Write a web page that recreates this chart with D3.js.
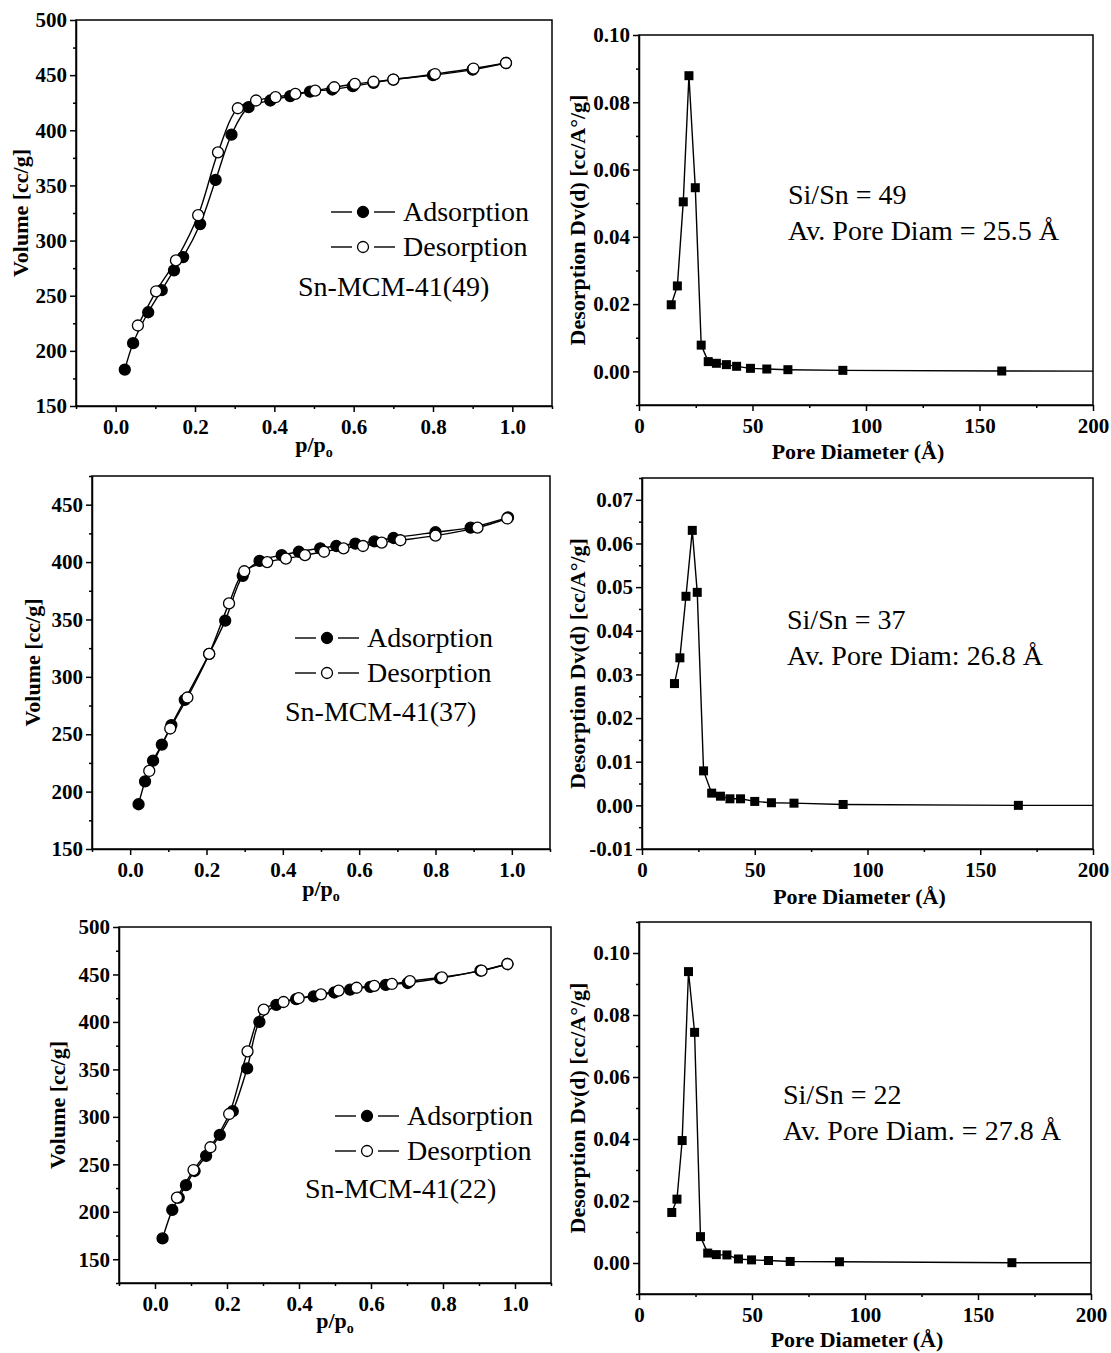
<!DOCTYPE html>
<html lang="en">
<head>
<meta charset="UTF-8">
<title>Sn-MCM-41 isotherms and pore size distributions</title>
<style>
  body { margin: 0; background: #fff; }
  svg { display: block; }
  text { font-family: "Liberation Serif", "Times New Roman", serif; fill: #000; }
  .axis text { font-size: 21px; font-weight: bold; }
  .axis line, .axis path { stroke: #000; stroke-width: 1.5; }
  .ttl { font-size: 22px; font-weight: bold; }
  .leg { font-size: 28px; }
</style>
</head>
<body>
<script src="https://d3js.org/d3.v7.min.js"></script>
<script>
// N2 isotherms, [p/po, volume cc/g]
const ads49 = [[0.023,183],[0.044,207],[0.082,235],[0.116,255],[0.147,273],[0.170,285],[0.213,315],[0.252,355],[0.292,396],[0.335,421],[0.390,427],[0.440,431],[0.490,435],[0.546,437],[0.598,440],[0.650,443],[0.700,446],[0.800,450],[0.900,455],[0.984,461]];
const des49 = [[0.984,461],[0.902,456],[0.805,451],[0.700,446],[0.650,444],[0.603,442],[0.551,439],[0.503,436],[0.453,433],[0.403,430],[0.354,427],[0.308,420],[0.258,380],[0.208,323],[0.152,282],[0.102,254],[0.056,223]];

const ads37 = [[0.022,189],[0.039,209],[0.060,227],[0.083,241],[0.108,258],[0.143,280],[0.207,320],[0.249,349],[0.295,388],[0.339,401],[0.397,406],[0.442,409],[0.498,412],[0.540,414],[0.590,416],[0.640,418],[0.690,421],[0.800,426],[0.892,430],[0.990,439]];
const des37 = [[0.988,438],[0.910,430],[0.800,423],[0.708,419],[0.659,417],[0.610,414],[0.559,412],[0.508,409],[0.458,406],[0.408,403],[0.359,400],[0.299,392],[0.259,364],[0.207,320],[0.150,282],[0.105,255],[0.050,218]];

const ads22 = [[0.021,172],[0.048,202],[0.066,215],[0.086,228],[0.110,243],[0.142,259],[0.180,281],[0.216,306],[0.256,351],[0.290,400],[0.337,418],[0.392,424],[0.441,427],[0.498,431],[0.542,434],[0.598,437],[0.641,439],[0.702,441],[0.792,446],[0.904,454],[0.979,461]];
const des22 = [[0.979,461],[0.907,454],[0.797,447],[0.708,443],[0.658,440],[0.609,438],[0.560,436],[0.510,433],[0.461,429],[0.399,425],[0.357,421],[0.302,413],[0.257,369],[0.206,303],[0.154,268],[0.107,244],[0.061,215]];

// pore size distributions, [pore diameter A, Dv(d)]; last point lies past the axis end
const psd49 = [[14.2,0.0198],[16.9,0.0254],[19.5,0.0504],[22.0,0.0879],[24.8,0.0546],[27.4,0.0078],[30.5,0.0029],[34.1,0.0024],[38.5,0.0020],[43.0,0.0015],[49.1,0.0009],[56.3,0.0007],[65.6,0.0005],[89.8,0.0003],[159.8,0.0001],[260,0]];
const psd37 = [[14.4,0.0279],[16.8,0.0338],[19.5,0.0479],[22.3,0.0630],[24.5,0.0488],[27.3,0.0079],[30.9,0.0028],[34.8,0.0021],[39.0,0.0015],[43.7,0.0015],[50.0,0.0009],[57.4,0.0006],[67.4,0.0005],[89.2,0.0002],[166.9,0.0000],[260,0]];
const psd22 = [[14.5,0.0163],[16.8,0.0206],[19.1,0.0395],[21.9,0.0940],[24.6,0.0744],[27.2,0.0085],[30.4,0.0032],[34.2,0.0027],[38.9,0.0026],[44.0,0.0013],[49.8,0.0010],[57.3,0.0008],[66.9,0.0005],[88.7,0.0004],[165.0,0.0001],[260,0]];

// ticks and labels
const pTicks = [0, 0.2, 0.4, 0.6, 0.8, 1.0];
const volTicks49 = [150, 200, 250, 300, 350, 400, 450, 500];
const volTicks37 = [150, 200, 250, 300, 350, 400, 450];
const volTicks22 = [150, 200, 250, 300, 350, 400, 450, 500];
const dTicks = [0, 50, 100, 150, 200];
const dvTicks49 = [0, 0.02, 0.04, 0.06, 0.08, 0.10];
const dvTicks37 = [-0.01, 0, 0.01, 0.02, 0.03, 0.04, 0.05, 0.06, 0.07];
const dvTicks22 = [0, 0.02, 0.04, 0.06, 0.08, 0.10];
const seriesNames = ["Adsorption", "Desorption"];
const sampleNames = ["Sn-MCM-41(49)", "Sn-MCM-41(37)", "Sn-MCM-41(22)"];
const notes49 = ["Si/Sn = 49", "Av. Pore Diam = 25.5 \u00C5"];
const notes37 = ["Si/Sn = 37", "Av. Pore Diam: 26.8 \u00C5"];
const notes22 = ["Si/Sn = 22", "Av. Pore Diam. = 27.8 \u00C5"];

const W = 1111, H = 1353;
const svg = d3.select("body").append("svg").attr("width", W).attr("height", H);

// layout of the six panels
const isoPanels = [
  {ads: ads49, des: des49, yTicks: volTicks49, yDom: [150, 500], left: 76, right: 552, top: 20, bottom: 406,
   name: sampleNames[0], leg: {x: 331, y: 212, nx: 298, ny: 296}, yTitleX: 28, xTitleY: 452},
  {ads: ads37, des: des37, yTicks: volTicks37, yDom: [150, 475], left: 92, right: 550, top: 476, bottom: 849,
   name: sampleNames[1], leg: {x: 295, y: 638, nx: 285, ny: 721}, yTitleX: 40, xTitleY: 896},
  {ads: ads22, des: des22, yTicks: volTicks22, yDom: [125, 500], left: 119, right: 551, top: 927, bottom: 1283,
   name: sampleNames[2], leg: {x: 335, y: 1116, nx: 305, ny: 1198}, yTitleX: 65, xTitleY: 1328}
];
const psdPanels = [
  {data: psd49, yTicks: dvTicks49, yDom: [-0.01, 0.10], yMinor: 0.01, left: 639, right: 1093, top: 35, bottom: 405,
   notes: notes49, nx: 788, ny: 204, xTitleY: 459},
  {data: psd37, yTicks: dvTicks37, yDom: [-0.01, 0.075], yMinor: 0.005, left: 642, right: 1093, top: 478, bottom: 849,
   notes: notes37, nx: 787, ny: 629, xTitleY: 904},
  {data: psd22, yTicks: dvTicks22, yDom: [-0.01, 0.11], yMinor: 0.01, left: 639, right: 1091, top: 922, bottom: 1294,
   notes: notes22, nx: 783, ny: 1104, xTitleY: 1347}
];

function minorTicks(dom, step, majors) {
  const out = [];
  const n = Math.round((dom[1] - dom[0]) / step);
  for (let i = 0; i <= n; i++) {
    const v = dom[0] + i * step;
    if (!majors.some(m => Math.abs(m - v) < step * 1e-3)) out.push(v);
  }
  return out;
}

function frame(p, x, y, xTicks, xMinor, xFmt, yTicks, yMinor, yFmt, idx) {
  const g = svg.append("g");
  g.append("g").attr("class", "axis").attr("transform", `translate(0,${p.bottom})`)
    .call(d3.axisBottom(x).tickValues(minorTicks(x.domain(), xMinor, xTicks)).tickSize(3).tickFormat(""))
    .call(s => s.select(".domain").remove());
  g.append("g").attr("class", "axis").attr("transform", `translate(${p.left},0)`)
    .call(d3.axisLeft(y).tickValues(minorTicks(y.domain(), yMinor, yTicks)).tickSize(3).tickFormat(""))
    .call(s => s.select(".domain").remove());
  g.append("g").attr("class", "axis").attr("transform", `translate(0,${p.bottom})`)
    .call(d3.axisBottom(x).tickValues(xTicks).tickSize(6).tickSizeOuter(0).tickPadding(7).tickFormat(xFmt));
  g.append("g").attr("class", "axis").attr("transform", `translate(${p.left},0)`)
    .call(d3.axisLeft(y).tickValues(yTicks).tickSize(6).tickSizeOuter(0).tickPadding(3).tickFormat(yFmt));
  g.append("rect").attr("x", p.left).attr("y", p.top)
    .attr("width", p.right - p.left).attr("height", p.bottom - p.top)
    .attr("fill", "none").attr("stroke", "#000").attr("stroke-width", 1.5);
  svg.append("clipPath").attr("id", "clip" + idx).append("rect")
    .attr("x", p.left).attr("y", p.top).attr("width", p.right - p.left).attr("height", p.bottom - p.top);
  return svg.append("g").attr("clip-path", `url(#clip${idx})`);
}

// isotherm panels
isoPanels.forEach((p, i) => {
  const x = d3.scaleLinear().domain([-0.1, 1.1]).range([p.left, p.right]);
  const y = d3.scaleLinear().domain(p.yDom).range([p.bottom, p.top]);
  const plot = frame(p, x, y, pTicks, 0.1, d => d.toFixed(1), p.yTicks, 25, d => d, "iso" + i);
  const line = d3.line().x(d => x(d[0])).y(d => y(d[1])).curve(d3.curveCatmullRom.alpha(0.5));

  [[p.ads, "#000"], [p.des, "#fff"]].forEach(([data, fill]) => {
    plot.append("path").datum(data).attr("d", line)
      .attr("fill", "none").attr("stroke", "#000").attr("stroke-width", 1.4);
    plot.selectAll(null).data(data).enter().append("circle")
      .attr("cx", d => x(d[0])).attr("cy", d => y(d[1])).attr("r", 5.5)
      .attr("fill", fill).attr("stroke", "#000").attr("stroke-width", 1.3);
  });

  // legend
  const lg = svg.append("g");
  seriesNames.forEach((s, k) => {
    const ly = p.leg.y + k * 35;
    lg.append("line").attr("x1", p.leg.x).attr("x2", p.leg.x + 21).attr("y1", ly).attr("y2", ly)
      .attr("stroke", "#000").attr("stroke-width", 1.4);
    lg.append("line").attr("x1", p.leg.x + 43).attr("x2", p.leg.x + 64).attr("y1", ly).attr("y2", ly)
      .attr("stroke", "#000").attr("stroke-width", 1.4);
    lg.append("circle").attr("cx", p.leg.x + 32).attr("cy", ly).attr("r", 5.5)
      .attr("fill", k === 0 ? "#000" : "#fff").attr("stroke", "#000").attr("stroke-width", 1.3);
    lg.append("text").attr("class", "leg").attr("x", p.leg.x + 72).attr("y", ly + 9).text(s);
  });
  lg.append("text").attr("class", "leg").attr("x", p.leg.nx).attr("y", p.leg.ny).text(p.name);

  // axis titles
  svg.append("text").attr("class", "ttl")
    .attr("transform", `translate(${p.yTitleX},${(p.top + p.bottom) / 2}) rotate(-90)`)
    .attr("text-anchor", "middle").text("Volume [cc/g]");
  const xt = svg.append("text").attr("class", "ttl")
    .attr("x", (p.left + p.right) / 2).attr("y", p.xTitleY).attr("text-anchor", "middle");
  xt.append("tspan").text("p/p");
  xt.append("tspan").attr("font-size", 14).attr("dy", 5).text("o");
});

// pore size distribution panels
psdPanels.forEach((p, i) => {
  const x = d3.scaleLinear().domain([0, 200]).range([p.left, p.right]);
  const y = d3.scaleLinear().domain(p.yDom).range([p.bottom, p.top]);
  const plot = frame(p, x, y, dTicks, 25, d => d, p.yTicks, p.yMinor, d => d.toFixed(2), "psd" + i);
  const line = d3.line().x(d => x(d[0])).y(d => y(d[1]));

  plot.append("path").datum(p.data).attr("d", line)
    .attr("fill", "none").attr("stroke", "#000").attr("stroke-width", 1.4);
  plot.selectAll(null).data(p.data).enter().append("rect")
    .attr("x", d => x(d[0]) - 4.5).attr("y", d => y(d[1]) - 4.5)
    .attr("width", 9).attr("height", 9).attr("fill", "#000");

  p.notes.forEach((t, k) => {
    svg.append("text").attr("class", "leg").attr("x", p.nx).attr("y", p.ny + k * 36).text(t);
  });

  svg.append("text").attr("class", "ttl")
    .attr("transform", `translate(585,${(p.top + p.bottom) / 2}) rotate(-90)`)
    .attr("text-anchor", "middle").text("Desorption Dv(d) [cc/A\u00B0/g]");
  svg.append("text").attr("class", "ttl")
    .attr("x", (p.left + p.right) / 2 - 8).attr("y", p.xTitleY).attr("text-anchor", "middle")
    .text("Pore Diameter (\u00C5)");
});
</script>
</body>
</html>
